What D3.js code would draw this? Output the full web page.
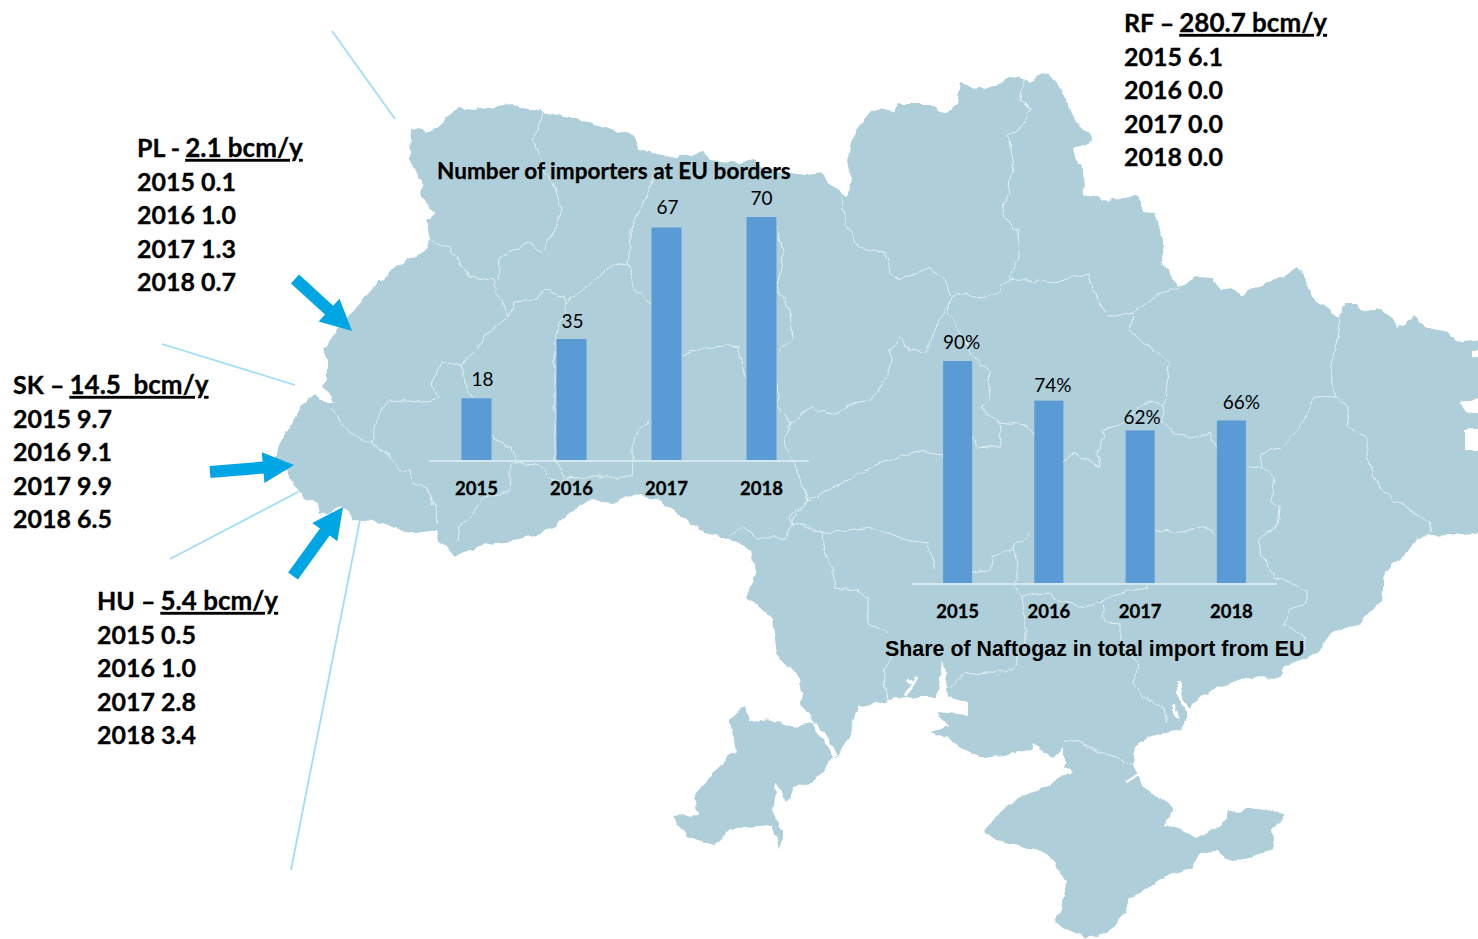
<!DOCTYPE html>
<html>
<head>
<meta charset="utf-8">
<script src="https://cdn.jsdelivr.net/npm/d3@7"></script>
<style>
  html, body { margin: 0; padding: 0; background: #fff; }
  svg { display: block; }
</style>
</head>
<body>
<svg id="chart" width="1478" height="939"></svg>
<script>
// chart values
var years = ["2015", "2016", "2017", "2018"];
var importers = [18, 35, 67, 70];
var naftogazShare = [90, 74, 62, 66];

var plValues = ["0.1", "1.0", "1.3", "0.7"];
var skValues = ["9.7", "9.1", "9.9", "6.5"];
var huValues = ["0.5", "1.0", "2.8", "3.4"];
var rfValues = ["6.1", "0.0", "0.0", "0.0"];

// background map
var mapOutline = [[411,128],[429,131],[440,125],[457,108],[473,110],[511,105],[542,112],[576,118],[607,128],[633,135],[641,150],[676,158],[702,152],[710,160],[741,163],[752,158],[767,170],[806,175],[821,173],[833,185],[848,197],[850,192],[852,177],[847,163],[850,147],[858,128],[872,112],[883,108],[893,112],[897,105],[934,105],[936,112],[945,114],[958,105],[961,83],[978,88],[997,87],[1009,77],[1023,78],[1029,82],[1039,75],[1049,76],[1064,93],[1068,107],[1080,128],[1090,132],[1091,143],[1073,148],[1076,160],[1083,168],[1084,195],[1108,200],[1137,195],[1143,212],[1155,213],[1161,240],[1165,253],[1161,260],[1178,287],[1198,277],[1212,278],[1220,290],[1231,288],[1243,296],[1263,282],[1283,277],[1298,267],[1308,283],[1312,297],[1340,317],[1346,303],[1357,303],[1361,312],[1381,308],[1397,327],[1414,317],[1426,328],[1442,328],[1456,343],[1495,338],[1495,347],[1472,350],[1472,357],[1495,360],[1495,393],[1460,403],[1466,412],[1495,415],[1495,427],[1464,430],[1464,450],[1495,450],[1495,532],[1418,537],[1405,555],[1385,572],[1382,600],[1360,623],[1330,633],[1316,653],[1285,667],[1283,678],[1249,677],[1218,687],[1191,703],[1187,717],[1180,730],[1147,737],[1135,747],[1133,765],[1146,790],[1169,803],[1173,810],[1164,825],[1182,830],[1196,838],[1222,825],[1229,812],[1258,808],[1283,813],[1283,820],[1272,827],[1274,850],[1231,862],[1218,852],[1200,853],[1191,868],[1164,877],[1129,900],[1124,913],[1106,933],[1084,937],[1055,922],[1062,910],[1066,883],[1048,853],[1021,847],[995,840],[984,830],[1008,807],[1017,798],[1053,783],[1073,770],[1064,767],[1064,747],[1053,758],[1033,743],[1030,750],[986,758],[968,752],[946,737],[930,732],[950,727],[937,712],[968,715],[968,703],[948,697],[946,680],[942,659],[940,680],[937,697],[917,697],[888,700],[859,707],[852,727],[839,757],[834,758],[812,783],[794,787],[787,803],[776,783],[772,812],[783,830],[780,850],[772,825],[731,828],[714,845],[687,837],[673,817],[698,815],[696,793],[716,770],[736,750],[729,717],[745,707],[749,722],[772,720],[794,727],[814,722],[803,707],[798,673],[778,660],[772,620],[747,597],[756,570],[751,550],[729,538],[705,533],[682,517],[660,500],[633,493],[614,502],[587,500],[555,527],[520,540],[480,545],[454,557],[440,540],[438,530],[415,533],[381,523],[354,520],[343,507],[320,515],[318,503],[304,497],[293,482],[276,460],[278,447],[289,427],[304,403],[313,395],[325,402],[333,402],[322,386],[327,380],[327,360],[324,348],[335,333],[352,313],[373,287],[402,263],[427,250],[429,240],[425,220],[435,215],[423,197],[421,182],[410,160]];

var regionBorders = [
  [[331,407],[341,423],[352,435],[371,442],[389,455],[398,470],[410,470],[412,482],[427,488],[435,507],[438,523]],
  [[371,442],[379,413],[390,400],[423,402],[440,398],[431,385],[442,360],[460,366],[469,395],[492,438],[511,447],[515,463],[538,465],[553,480],[588,477],[632,477],[633,460],[633,437],[649,420]],
  [[429,240],[450,248],[469,277],[492,280],[498,293],[509,317],[486,335],[477,350],[460,366]],
  [[542,112],[534,140],[538,157],[555,187],[561,210],[555,230],[542,252],[530,242],[500,257],[498,280]],
  [[509,317],[515,302],[538,300],[545,290],[565,297],[565,313],[555,337],[555,460],[565,477]],
  [[565,303],[595,280],[607,268],[628,263],[633,287],[651,303]],
  [[628,263],[633,223],[653,183],[656,173]],
  [[775,217],[783,257],[777,287],[790,310],[792,340],[777,353]],
  [[681,355],[702,350],[737,345],[745,377]],
  [[777,383],[779,407],[790,423],[785,443],[798,473],[808,500],[790,523]],
  [[790,423],[811,407],[834,415],[852,403],[872,400],[889,373],[891,350],[901,337],[909,350],[927,352],[938,323],[952,298]],
  [[808,500],[829,490],[852,477],[875,465],[905,455],[920,452],[943,455]],
  [[790,523],[825,533],[874,527],[905,540],[928,543],[935,570]],
  [[511,462],[509,492],[486,497],[461,527],[457,540]],
  [[840,195],[845,220],[858,247],[885,252],[891,272],[899,280],[931,268],[946,280],[952,298]],
  [[1023,78],[1021,100],[1031,110],[1025,123],[1009,135],[1013,160],[1009,187],[1002,215],[1017,230],[1019,257],[1009,278],[997,293],[974,297],[964,292],[952,298],[948,310],[974,357],[988,370],[990,400],[980,407],[999,422],[1027,425],[1033,433],[1064,463],[1074,453],[1100,467],[1098,453],[1104,430],[1125,423],[1143,402],[1165,403],[1169,363],[1143,343],[1131,332],[1133,313],[1108,317],[1096,297],[1088,273],[1055,283],[1009,278]],
  [[999,422],[1001,445],[978,447],[972,437]],
  [[1133,313],[1161,293],[1180,288]],
  [[1340,318],[1336,343],[1330,370],[1336,397],[1349,407],[1346,427],[1367,437],[1367,457],[1381,490],[1410,510],[1430,522],[1432,533]],
  [[1336,397],[1314,398],[1300,427],[1281,448],[1261,452],[1263,468],[1275,477],[1271,500],[1279,507],[1277,527],[1259,537],[1261,558]],
  [[1165,403],[1161,422],[1178,435],[1198,438],[1210,432],[1218,450]],
  [[1247,467],[1263,468]],
  [[729,537],[743,525],[756,538],[785,538],[792,525],[807,525],[825,535]],
  [[792,525],[790,517],[807,500]],
  [[825,535],[823,550],[834,570],[834,587],[856,590],[868,598],[868,623],[888,633]],
  [[972,573],[990,570],[993,557],[1013,547],[1030,533]],
  [[1013,547],[1017,560],[1015,583],[1022,597],[1026,627],[1026,637],[1013,667],[1006,673],[986,672],[964,675],[946,690]],
  [[1022,597],[1053,593],[1055,600],[1086,607],[1120,593],[1147,588],[1149,585]],
  [[1102,603],[1106,623],[1120,622],[1120,643],[1140,665],[1133,683],[1142,697],[1164,708],[1167,723]],
  [[1155,530],[1182,533],[1198,527],[1216,533]],
  [[1260,555],[1276,578],[1307,590],[1307,603],[1289,610],[1285,623],[1305,637],[1305,650]],
  [[888,700],[883,670],[892,657]],
  [[1064,740],[1082,742],[1100,753],[1118,757],[1126,765],[1133,763]]
];

var estuaries = [
  {w: 5, pts: [[814,722],[823,737],[836,757]]},
  {w: 3, pts: [[906,697],[913,685],[917,678]]},
  {w: 3, pts: [[913,685],[907,680]]},
  {w: 4, pts: [[1178,682],[1182,703],[1190,712]]},
  {w: 3, pts: [[1173,705],[1178,718]]},
  {w: 3, pts: [[1126,783],[1142,772]]}
];

var paleLines = [
  [[332,31],[395,119]],
  [[162,344],[295,385]],
  [[170,559],[298,492]],
  [[360,520],[291,870]]
];

var flowArrows = [
  {from: [295,279], to: [352,331]},
  {from: [210,472], to: [294,465]},
  {from: [293,576], to: [343,507]}
];

var svg = d3.select("#chart");
var line = d3.line();

// rough up the traced map a little, the source outline is very jagged
var rough = svg.append("defs").append("filter")
    .attr("id", "rough")
    .attr("filterUnits", "userSpaceOnUse")
    .attr("x", 0).attr("y", 0).attr("width", 1520).attr("height", 960);
rough.append("feTurbulence")
    .attr("type", "fractalNoise")
    .attr("baseFrequency", 0.09)
    .attr("numOctaves", 2)
    .attr("seed", 4)
    .attr("result", "noise");
rough.append("feDisplacementMap")
    .attr("in", "SourceGraphic")
    .attr("in2", "noise")
    .attr("scale", 7)
    .attr("xChannelSelector", "R")
    .attr("yChannelSelector", "G");

// map
var mapLayer = svg.append("g").attr("filter", "url(#rough)");

mapLayer.append("path")
    .attr("d", line(mapOutline) + "Z")
    .attr("fill", "#aecfd9");

mapLayer.append("g").selectAll("path")
    .data(regionBorders)
    .enter().append("path")
    .attr("d", line)
    .attr("fill", "none")
    .attr("stroke", "#e2eff3")
    .attr("stroke-width", 1);

mapLayer.append("g").selectAll("path")
    .data(estuaries)
    .enter().append("path")
    .attr("d", function (d) { return line(d.pts); })
    .attr("fill", "none")
    .attr("stroke", "#fff")
    .attr("stroke-width", function (d) { return d.w; });

// thin pale lines around the border points
svg.append("g").selectAll("path")
    .data(paleLines)
    .enter().append("path")
    .attr("d", line)
    .attr("stroke", "#a0def8")
    .attr("stroke-width", 1.8);

// arrows
function arrowPoints(a) {
  var dx = a.to[0] - a.from[0], dy = a.to[1] - a.from[1];
  var len = Math.sqrt(dx * dx + dy * dy);
  var ux = dx / len, uy = dy / len, nx = -uy, ny = ux;
  var headLen = 31, shaft = 6, head = 15.5;
  var bx = a.to[0] - ux * headLen, by = a.to[1] - uy * headLen;
  return [
    [a.from[0] + nx * shaft, a.from[1] + ny * shaft],
    [bx + nx * shaft, by + ny * shaft],
    [bx + nx * head, by + ny * head],
    a.to,
    [bx - nx * head, by - ny * head],
    [bx - nx * shaft, by - ny * shaft],
    [a.from[0] - nx * shaft, a.from[1] - ny * shaft]
  ];
}

svg.append("g").selectAll("path")
    .data(flowArrows)
    .enter().append("path")
    .attr("d", function (d) { return line(arrowPoints(d)) + "Z"; })
    .attr("fill", "#00a6e4");

// the two small bar charts on top of the map
function drawBars(cfg) {
  var x = d3.scaleBand()
      .domain(years)
      .range([cfg.left, cfg.right])
      .paddingInner(cfg.pad)
      .paddingOuter(cfg.pad / 2);
  var y = d3.scaleLinear()
      .domain([0, cfg.maxValue])
      .range([cfg.base, cfg.top]);

  var g = svg.append("g");

  g.selectAll("rect")
      .data(cfg.values)
      .enter().append("rect")
      .attr("x", function (d, i) { return x(years[i]); })
      .attr("y", function (d) { return y(d); })
      .attr("width", x.bandwidth())
      .attr("height", function (d) { return cfg.base - y(d); })
      .attr("fill", "#5b9bd5");

  var axis = g.append("g")
      .attr("transform", "translate(0," + cfg.base + ")")
      .call(d3.axisBottom(x).tickSize(0).tickPadding(cfg.tickPad));
  axis.select(".domain")
      .attr("d", "M" + cfg.left + ",0H" + cfg.right)
      .attr("stroke", "#d3e8ef")
      .attr("stroke-width", 2);
  axis.selectAll("text")
      .attr("font-family", "Lato")
      .attr("font-weight", 700)
      .attr("font-size", 18.5)
      .attr("stroke", "#000")
      .attr("stroke-width", 0.3)
      .attr("fill", "#000");

  // value labels, nudged a bit like the hand placed ones in the source
  g.selectAll(".label")
      .data(cfg.values)
      .enter().append("text")
      .attr("class", "label")
      .attr("x", function (d, i) { return x(years[i]) + x.bandwidth() / 2 + cfg.nudgeX[i]; })
      .attr("y", function (d, i) { return y(d) - cfg.gap + cfg.nudgeY[i]; })
      .attr("text-anchor", "middle")
      .attr("font-family", "Lato")
      .attr("font-size", 19)
      .attr("fill", "#000")
      .text(function (d) { return d + cfg.suffix; });
}

drawBars({values: importers, maxValue: 70, left: 429, right: 809, base: 461, top: 217,
          pad: 65 / 95, tickPad: 21, gap: 12, suffix: "",
          nudgeX: [6, 1, 1, 0], nudgeY: [0, 1, -1, 0]});
drawBars({values: naftogazShare, maxValue: 90, left: 912, right: 1277, base: 584, top: 361,
          pad: 62 / 91, tickPad: 21, gap: 12, suffix: "%",
          nudgeX: [4, 4, 2, 10], nudgeY: [0, 3, 6, 1]});

svg.append("text")
    .attr("x", 437).attr("y", 179)
    .attr("font-family", "Lato").attr("font-weight", 700).attr("font-size", 22.6)
    .attr("stroke", "#000").attr("stroke-width", 0.25)
    .attr("fill", "#000")
    .text("Number of importers at EU borders");

svg.append("text")
    .attr("x", 885).attr("y", 656)
    .attr("font-family", "Liberation Sans").attr("font-weight", 700).attr("font-size", 21.4)
    .attr("fill", "#000")
    .text("Share of Naftogaz in total import from EU");

// supply point blocks
var blocks = [
  {x: 137, y: 157, head: "PL - ", amount: "2.1 bcm/y", values: plValues},
  {x: 13,  y: 394, head: "SK \u2013 ", amount: "14.5\u00a0 bcm/y", values: skValues},
  {x: 97,  y: 610, head: "HU \u2013 ", amount: "5.4 bcm/y", values: huValues},
  {x: 1124, y: 32, head: "RF \u2013 ", amount: "280.7 bcm/y", values: rfValues}
];

blocks.forEach(function (b) {
  var t = svg.append("text")
      .attr("font-family", "Lato").attr("font-weight", 700).attr("font-size", 25)
      .attr("stroke", "#000").attr("stroke-width", 0.3)
      .attr("fill", "#000");
  var first = t.append("tspan").attr("x", b.x).attr("y", b.y);
  first.append("tspan").text(b.head);
  first.append("tspan")
      .attr("dx", -1)
      .attr("font-size", 26)
      .style("text-decoration", "underline")
      .text(b.amount);
  b.values.forEach(function (v, i) {
    t.append("tspan")
        .attr("x", b.x)
        .attr("y", b.y + 33.6 * (i + 1))
        .text(years[i] + " " + v);
  });
});
</script>
</body>
</html>
